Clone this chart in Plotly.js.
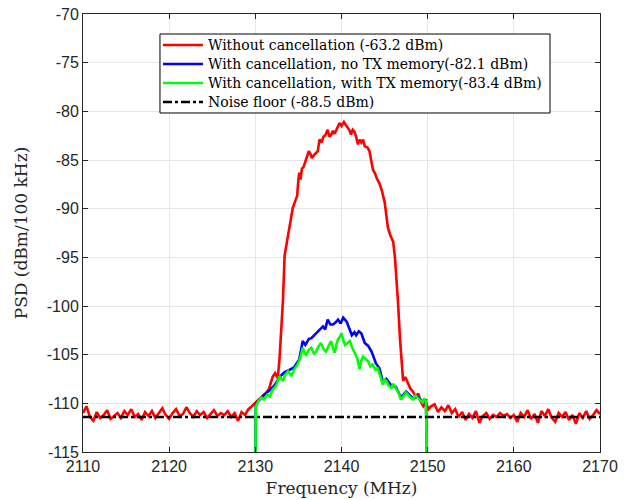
<!DOCTYPE html>
<html>
<head>
<meta charset="utf-8">
<script src="https://cdn.plot.ly/plotly-3.0.1.min.js"></script>
<style>html,body{margin:0;padding:0;background:#fff;}#chart{width:629px;height:500px;}</style>
</head>
<body>
<div id="chart"></div>
<script>
// ---- data ----
const seriesNames = [
  "Without cancellation (-63.2 dBm)",
  "With cancellation, no TX memory(-82.1 dBm)",
  "With cancellation, with TX memory(-83.4 dBm)",
  "Noise floor (-88.5 dBm)"
];
const seriesColors = ['#ff0000', '#0000ff', '#00ff00', '#000000'];

const redFreq = [
  2110.0,2110.4,2110.8,2111.2,2111.6,2112.0,2112.4,2112.8,2113.2,2113.6,
  2114.0,2114.4,2114.8,2115.2,2115.6,2116.0,2116.4,2116.8,2117.2,2117.6,
  2118.0,2118.4,2118.8,2119.2,2119.6,2120.0,2120.4,2120.8,2121.2,2121.6,
  2122.0,2122.4,2122.8,2123.2,2123.6,2124.0,2124.4,2124.8,2125.2,2125.6,
  2126.0,2126.4,2126.8,2127.2,2127.6,2128.0,2128.4,2128.8,2129.2,2129.6,
  2130.0,2130.4,2130.8,2131.2,2131.6,2132.0,2132.3,2132.6,2132.8,2133.0,
  2133.2,2133.4,2133.7,2133.95,2134.15,2134.35,2134.6,2134.85,2135.0,2135.1,
  2135.25,2135.4,2135.6,2135.9,2136.2,2136.4,2136.55,2136.8,2137.0,2137.25,
  2137.45,2137.7,2137.9,2138.1,2138.4,2138.6,2138.8,2139.0,2139.2,2139.5,
  2139.77,2140.0,2140.28,2140.5,2140.7,2140.9,2141.1,2141.3,2141.5,2141.7,
  2141.9,2142.1,2142.3,2142.5,2142.7,2143.0,2143.25,2143.45,2143.65,2143.9,
  2144.1,2144.4,2144.7,2145.0,2145.2,2145.4,2145.7,2146.0,2146.2,2146.35,
  2146.55,2146.8,2147.0,2147.15,2147.4,2147.7,2148.0,2148.3,2148.6,2148.9,
  2149.2,2149.5,2149.8,2150.1,2150.4,
  2150.8,2151.2,2151.6,2152.0,2152.4,2152.8,2153.2,2153.6,2154.0,2154.4,
  2154.8,2155.2,2155.6,2156.0,2156.4,2156.8,2157.2,2157.6,2158.0,2158.4,
  2158.8,2159.2,2159.6,2160.0,2160.4,2160.8,2161.2,2161.6,2162.0,2162.4,
  2162.8,2163.2,2163.6,2164.0,2164.4,2164.8,2165.2,2165.6,2166.0,2166.4,
  2166.8,2167.2,2167.6,2168.0,2168.4,2168.8,2169.2,2169.6,2170.0
];
const redPSD = [
  -111.0,-110.3,-111.4,-111.8,-110.9,-111.5,-111.2,-110.7,-111.6,-111.3,
  -111.0,-111.5,-110.8,-111.2,-110.6,-111.4,-111.1,-111.7,-110.9,-111.3,
  -110.8,-111.5,-111.0,-110.5,-111.2,-111.6,-111.0,-110.6,-111.3,-111.1,
  -110.4,-111.0,-111.4,-110.8,-111.2,-110.9,-111.5,-111.1,-110.7,-111.3,
  -111.0,-111.2,-110.8,-111.4,-111.0,-111.8,-110.9,-111.2,-110.6,-110.3,
  -109.9,-109.6,-109.3,-109.0,-108.5,-107.3,-106.9,-107.4,-105.5,-102.5,
  -99.5,-94.8,-93.2,-92.3,-91.0,-89.9,-89.3,-88.7,-87.0,-86.3,
  -87.0,-85.9,-85.7,-85.0,-84.1,-84.4,-84.8,-84.5,-84.3,-84.1,
  -82.9,-83.2,-82.6,-82.5,-81.9,-82.6,-82.4,-82.0,-82.3,-81.8,
  -81.2,-81.5,-81.1,-81.4,-81.7,-81.9,-82.4,-81.9,-82.1,-82.6,
  -83.4,-82.9,-83.2,-82.9,-83.6,-83.7,-84.1,-85.0,-86.0,-86.4,
  -86.9,-87.4,-88.2,-89.3,-90.6,-92.0,-92.8,-93.4,-95.0,-96.8,
  -99.5,-103.5,-106.5,-107.7,-107.3,-107.9,-108.5,-108.8,-109.3,-109.0,
  -109.8,-110.3,-109.9,-110.6,-110.3,
  -110.1,-110.9,-110.4,-110.8,-110.2,-111.0,-110.6,-111.4,-110.9,-111.7,
  -111.1,-111.5,-110.8,-112.0,-111.3,-111.0,-111.6,-111.2,-111.4,-111.0,
  -111.3,-111.1,-111.5,-111.2,-111.9,-111.0,-111.4,-110.7,-111.6,-111.1,
  -112.0,-110.8,-111.3,-110.6,-111.5,-111.9,-111.0,-111.4,-110.9,-111.7,
  -111.2,-112.1,-111.0,-111.5,-110.8,-111.6,-111.2,-110.7,-111.1
];

const blueFreq = [
  2130.0,2130.05,2130.3,2130.7,2131.05,2131.6,2132.2,2132.8,2133.4,2133.9,
  2134.5,2135.1,2135.5,2135.8,2136.2,2136.5,2137.05,2137.4,2137.85,2138.1,
  2138.4,2138.7,2139.0,2139.3,2139.6,2139.9,2140.2,2140.6,2140.9,2141.2,
  2141.5,2141.7,2142.0,2142.3,2142.7,2143.1,2143.5,2144.0,2144.4,2144.8,
  2145.2,2145.8,2146.3,2146.9,2147.5,2148.3,2148.8,2149.4,2149.8,2150.0
];
const bluePSD = [
  -120,-110.2,-109.8,-109.4,-109.1,-108.7,-108.2,-107.3,-106.8,-106.6,
  -106.3,-105.5,-103.6,-104.0,-103.4,-103.3,-102.8,-102.5,-102.1,-102.4,
  -101.4,-101.9,-101.9,-101.7,-101.4,-101.8,-101.2,-101.6,-102.3,-103.0,
  -102.7,-103.0,-102.6,-102.8,-103.8,-104.1,-104.7,-105.9,-106.4,-107.8,
  -107.5,-108.2,-108.3,-109.4,-108.8,-109.5,-109.3,-109.8,-109.7,-120
];

const greenFreq = [
  2130.0,2130.05,2130.4,2130.7,2131.0,2131.4,2131.7,2132.0,2132.4,2132.8,
  2133.2,2133.5,2133.8,2134.2,2134.5,2134.9,2135.2,2135.5,2135.7,2135.9,
  2136.2,2136.5,2136.8,2137.05,2137.3,2137.6,2137.9,2138.2,2138.5,2138.8,
  2139.0,2139.2,2139.4,2139.6,2139.8,2140.0,2140.2,2140.4,2140.7,2140.97,
  2141.2,2141.5,2141.8,2142.1,2142.3,2142.5,2142.8,2143.1,2143.35,2143.6,
  2143.9,2144.2,2144.5,2144.8,2145.0,2145.2,2145.5,2145.8,2146.0,2146.3,
  2146.6,2146.9,2147.2,2147.5,2147.9,2148.3,2148.6,2148.8,2149.1,2149.4,
  2149.6,2149.8,2150.0
];
const greenPSD = [
  -120,-110.3,-109.7,-109.4,-109.6,-109.1,-109.3,-108.6,-108.2,-107.2,
  -107.7,-107.0,-106.7,-107.2,-106.5,-106.0,-105.4,-104.3,-104.8,-105.0,
  -104.5,-104.3,-104.9,-104.7,-104.2,-103.8,-104.4,-104.7,-104.1,-103.6,
  -104.3,-104.8,-104.0,-103.4,-103.2,-102.8,-103.5,-104.0,-103.8,-103.6,
  -104.2,-104.8,-105.3,-106.5,-105.6,-105.2,-105.5,-105.7,-106.2,-106.0,
  -106.5,-106.4,-107.2,-108.1,-107.5,-107.7,-108.2,-108.4,-108.0,-108.4,
  -108.9,-109.6,-109.2,-108.9,-109.3,-109.6,-109.2,-109.4,-109.7,-109.9,
  -109.5,-109.8,-120
];

const noiseFreq = [2110, 2170];
const noisePSD = [-111.4, -111.4];

const xTicks = [2110, 2120, 2130, 2140, 2150, 2160, 2170];
const yTicks = [-115, -110, -105, -100, -95, -90, -85, -80, -75, -70];

// ---- plot ----
const serif = 'DejaVu Serif';
const sans = 'Liberation Sans';
const dashes = ['solid', 'solid', 'solid', 'dashdot'];

const traces = [
  {x: redFreq, y: redPSD, name: seriesNames[0], mode: 'lines', line: {color: seriesColors[0], width: 2.6}},
  {x: blueFreq, y: bluePSD, name: seriesNames[1], mode: 'lines', line: {color: seriesColors[1], width: 2.6}},
  {x: greenFreq, y: greenPSD, name: seriesNames[2], mode: 'lines', line: {color: seriesColors[2], width: 2.6}},
  {x: noiseFreq, y: noisePSD, name: seriesNames[3], mode: 'lines', line: {color: seriesColors[3], width: 2.5, dash: 'dashdot'}}
];

// custom legend (box, line samples, labels) in paper coordinates
const legBox = {x0: 0.1489, x1: 0.9033, y0: 0.774, y1: 0.9543};
const legRowY = [0.9292, 0.8858, 0.8425, 0.7991];
const shapes = [{
  type: 'rect', xref: 'paper', yref: 'paper',
  x0: legBox.x0, x1: legBox.x1, y0: legBox.y0, y1: legBox.y1,
  fillcolor: '#ffffff', line: {color: '#000000', width: 1}, layer: 'above'
}];
const annotations = [];
seriesNames.forEach((nm, i) => {
  shapes.push({
    type: 'line', xref: 'paper', yref: 'paper',
    x0: 0.1547, x1: 0.2321, y0: legRowY[i], y1: legRowY[i],
    line: {color: seriesColors[i], width: 2.5, dash: dashes[i]}, layer: 'above'
  });
  annotations.push({
    xref: 'paper', yref: 'paper', x: 0.2380, y: legRowY[i],
    xanchor: 'left', yanchor: 'middle', showarrow: false, text: nm,
    font: {family: serif, size: 14, color: '#000000'}
  });
});

const axisCommon = {
  showline: true, mirror: 'ticks', linecolor: '#262626', linewidth: 1,
  ticks: 'inside', ticklen: 5, tickcolor: '#262626',
  showgrid: true, gridcolor: '#e6e6e6', gridwidth: 1, zeroline: false,
  tickfont: {family: sans, size: 16, color: '#262626'}
};

const layout = {
  width: 629, height: 500,
  margin: {l: 83, r: 29, t: 14, b: 48},
  paper_bgcolor: '#ffffff', plot_bgcolor: '#ffffff',
  showlegend: false,
  shapes: shapes,
  annotations: annotations,
  xaxis: Object.assign({}, axisCommon, {
    range: [2110, 2170], tickvals: xTicks, ticktext: xTicks.map(String),
    title: {text: 'Frequency (MHz)', font: {family: serif, size: 17, color: '#262626'}, standoff: 7}
  }),
  yaxis: Object.assign({}, axisCommon, {
    range: [-115, -70], tickvals: yTicks, ticktext: yTicks.map(String),
    title: {text: 'PSD (dBm/100 kHz)', font: {family: serif, size: 17, color: '#262626'}, standoff: 14}
  })
};

Plotly.newPlot('chart', traces, layout, {displayModeBar: false, staticPlot: true});
</script>
</body>
</html>
